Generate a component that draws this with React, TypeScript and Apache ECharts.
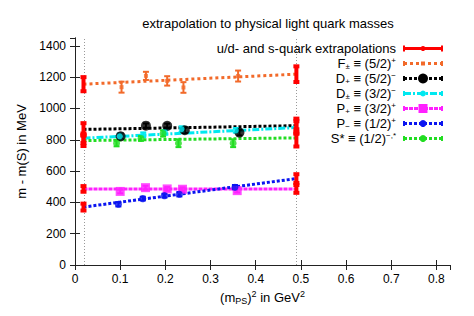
import React, { useEffect, useRef } from 'react';
import * as echarts from 'echarts';

const X_PHYS = 0.0188;
const X_STRANGE = 0.49;

const xTicks = [0, 0.1, 0.2, 0.3, 0.4, 0.5, 0.6, 0.7, 0.8];
const yTicks = [0, 200, 400, 600, 800, 1000, 1200, 1400];

// F± ≡ (5/2)+
const fX = [0.103, 0.157, 0.204, 0.240, 0.361];
const fY = [1136, 1208, 1176, 1134, 1207];
const fErr = [35, 26, 30, 34, 35];
const fFit = [1155, 1219];
const fExtErr = [45, 50];

// D+ ≡ (5/2)-
const d52X = [0.101, 0.157, 0.204, 0.243, 0.364];
const d52Y = [822, 890, 889, 861, 846];
const d52Err = [18, 14, 14, 18, 18];
const d52Fit = [866, 890];
const d52ExtErr = [40, 45];

// D± ≡ (3/2)-
const d32X = [0.099, 0.151, 0.199, 0.236, 0.356];
const d32Y = [822, 832, 848, 868, 860];
const d32Err = [18, 15, 15, 18, 15];
const d32Fit = [810, 878];
const d32ExtErr = [30, 40];

// P+ ≡ (3/2)+
const ppX = [0.100, 0.156, 0.204, 0.238, 0.359];
const ppY = [470, 494, 486, 484, 475];
const ppErr = [12, 12, 12, 12, 12];
const ppFit = [486, 486];
const ppExtErr = [18, 25];

// P- ≡ (1/2)+
const pmX = [0.096, 0.150, 0.198, 0.231, 0.354];
const pmY = [388, 424, 443, 452, 497];
const pmErr = [14, 12, 12, 14, 14];
const pmFit = [370, 552];
const pmExtErr = [22, 28];

// S* ≡ (1/2)-,*
const sX = [0.092, 0.146, 0.195, 0.229, 0.350];
const sY = [778, 808, 840, 778, 778];
const sErr = [20, 15, 20, 25, 25];
const sFit = [795, 812];
const sExtErr = [35, 55];

const FONT = 'Liberation Sans, Arial, sans-serif';

type SetDef = {
  label: string;
  color: string;
  x: number[]; y: number[]; err: number[]; fit: number[]; extErr: number[];
  symbol: string; size: number; dash: number[];
};

const sets: SetDef[] = [
  { label: '{m|F}{sub|±}{m| ≡ (5/2)}{sup|+}', color: '#f26a2a', x: fX, y: fY, err: fErr, fit: fFit, extErr: fExtErr, symbol: 'rect', size: 4, dash: [3, 3] },
  { label: '{m|D}{sub|+}{m| ≡ (5/2)}{sup|−}', color: '#000000', x: d52X, y: d52Y, err: d52Err, fit: d52Fit, extErr: d52ExtErr, symbol: 'circle', size: 10, dash: [3, 2] },
  { label: '{m|D}{sub|±}{m| ≡ (3/2)}{sup|−}', color: '#00e8f0', x: d32X, y: d32Y, err: d32Err, fit: d32Fit, extErr: d32ExtErr, symbol: 'circle', size: 6, dash: [7, 2, 2, 2] },
  { label: '{m|P}{sub|+}{m| ≡ (3/2)}{sup|+}', color: '#ff20ff', x: ppX, y: ppY, err: ppErr, fit: ppFit, extErr: ppExtErr, symbol: 'rect', size: 9, dash: [4, 1] },
  { label: '{m|P}{sub|−}{m| ≡ (1/2)}{sup|+}', color: '#0a14f0', x: pmX, y: pmY, err: pmErr, fit: pmFit, extErr: pmExtErr, symbol: 'circle', size: 7, dash: [3, 2] },
  { label: '{m|S* ≡ (1/2)}{sup|−,*}', color: '#22dd22', x: sX, y: sY, err: sErr, fit: sFit, extErr: sExtErr, symbol: 'circle', size: 7, dash: [3, 2] },
];

const makeErrRender = (lw: number, cap: number) => (params: any, api: any) => {
  const x = api.value(0);
  const y = api.value(1);
  const e = api.value(2);
  const lo = api.coord([x, y - e]);
  const hi = api.coord([x, y + e]);
  const style = { stroke: api.visual('color'), lineWidth: lw };
  return {
    type: 'group',
    children: [
      { type: 'line', shape: { x1: lo[0], y1: lo[1], x2: hi[0], y2: hi[1] }, style },
      { type: 'line', shape: { x1: lo[0] - cap, y1: lo[1], x2: lo[0] + cap, y2: lo[1] }, style },
      { type: 'line', shape: { x1: hi[0] - cap, y1: hi[1], x2: hi[0] + cap, y2: hi[1] }, style },
    ],
  };
};

const rich = {
  m: { fontSize: 13, fontFamily: FONT, color: '#000', lineHeight: 14 },
  sub: { fontSize: 8, fontFamily: FONT, color: '#000', verticalAlign: 'bottom', lineHeight: 14 },
  sup: { fontSize: 8, fontFamily: FONT, color: '#000', verticalAlign: 'top', lineHeight: 14 },
};

export default function App() {
  const ref = useRef<HTMLDivElement>(null);
  useEffect(() => {
    if (!ref.current) return;
    const chart = echarts.init(ref.current, null, { renderer: 'svg' });

    const series: any[] = [];
    series.push({
      type: 'line',
      data: [],
      markLine: {
        silent: true,
        symbol: 'none',
        label: { show: false },
        lineStyle: { color: '#999', type: [1, 2], width: 1 },
        data: [{ xAxis: X_PHYS }, { xAxis: X_STRANGE }],
      },
      z: 1,
    });
    const extData: number[][] = [];
    sets.forEach((s) => {
      series.push({
        type: 'line',
        data: [[X_PHYS, s.fit[0]], [X_STRANGE, s.fit[1]]],
        showSymbol: false,
        symbol: 'none',
        lineStyle: { color: s.color, width: 3, type: s.dash },
        z: 2,
      });
      series.push({
        type: 'custom',
        renderItem: makeErrRender(2, 3),
        itemStyle: { color: s.color },
        data: s.x.map((x, i) => [x, s.y[i], s.err[i]]),
        z: 3,
      });
      series.push({
        type: 'scatter',
        symbol: s.symbol,
        symbolSize: s.size,
        itemStyle: { color: s.color },
        data: s.x.map((x, i) => [x, s.y[i]]),
        z: 4,
      });
      extData.push([X_PHYS, s.fit[0], s.extErr[0]]);
      extData.push([X_STRANGE, s.fit[1], s.extErr[1]]);
    });
    series.push({
      type: 'custom',
      renderItem: makeErrRender(4, 3),
      itemStyle: { color: '#ff0000' },
      data: extData,
      z: 5,
    });

    const graphic: any[] = [];
    const lgTextX = 396;
    const lgX1 = 404;
    const lgX2 = 442;
    const lgY0 = 48.5;
    const lgStep = 15;
    const mx = (lgX1 + lgX2) / 2;
    graphic.push({
      type: 'text', x: lgTextX, y: lgY0,
      style: { text: 'u/d- and s-quark extrapolations', font: `13px ${FONT}`, fill: '#000', align: 'right', verticalAlign: 'middle' },
    });
    graphic.push({ type: 'line', shape: { x1: lgX1, y1: lgY0, x2: lgX2, y2: lgY0 }, style: { stroke: '#ff0000', lineWidth: 3 } });
    graphic.push({ type: 'line', shape: { x1: lgX1, y1: lgY0 - 3, x2: lgX1, y2: lgY0 + 3 }, style: { stroke: '#ff0000', lineWidth: 2 } });
    graphic.push({ type: 'line', shape: { x1: lgX2, y1: lgY0 - 3, x2: lgX2, y2: lgY0 + 3 }, style: { stroke: '#ff0000', lineWidth: 2 } });
    graphic.push({ type: 'circle', shape: { cx: mx, cy: lgY0, r: 2.5 }, style: { fill: '#ff0000' } });
    sets.forEach((s, i) => {
      const y = lgY0 + lgStep * (i + 1);
      graphic.push({
        type: 'text', x: lgTextX, y,
        style: { text: s.label, rich, align: 'right', verticalAlign: 'middle' },
      });
      graphic.push({ type: 'line', shape: { x1: lgX1, y1: y, x2: lgX2, y2: y }, style: { stroke: s.color, lineWidth: 3, lineDash: s.dash } });
      graphic.push({ type: 'line', shape: { x1: lgX1, y1: y - 2.5, x2: lgX1, y2: y + 2.5 }, style: { stroke: s.color, lineWidth: 2 } });
      graphic.push({ type: 'line', shape: { x1: lgX2, y1: y - 2.5, x2: lgX2, y2: y + 2.5 }, style: { stroke: s.color, lineWidth: 2 } });
      if (s.symbol === 'rect') {
        graphic.push({ type: 'rect', shape: { x: mx - s.size / 2, y: y - s.size / 2, width: s.size, height: s.size }, style: { fill: s.color } });
      } else {
        graphic.push({ type: 'circle', shape: { cx: mx, cy: y, r: Math.max(s.size / 2, 3) }, style: { fill: s.color } });
      }
    });

    const axisCommon = {
      axisLine: { show: true, lineStyle: { color: '#222', width: 1 } },
      axisTick: { show: true, inside: true, length: 5, lineStyle: { color: '#222' } },
      splitLine: { show: false },
    };

    chart.setOption({
      animation: false,
      backgroundColor: '#fff',
      title: {
        text: 'extrapolation to physical light quark masses',
        left: 263, top: 12, textAlign: 'center',
        textStyle: { fontFamily: FONT, fontSize: 13, fontWeight: 'normal', color: '#000' },
      },
      grid: { left: 75, right: 24, top: 38, bottom: 51 },
      xAxis: [
        {
          type: 'value', min: 0, max: 0.83, interval: 0.1, position: 'bottom',
          ...axisCommon,
          axisLabel: { showMaxLabel: false, fontFamily: FONT, fontSize: 12, color: '#000', margin: 8,
            formatter: (v: number) => (xTicks.some((t) => Math.abs(t - v) < 1e-6) ? (Math.abs(v) < 1e-9 ? '0' : v.toFixed(1)) : '') },
          name: '(m{sub|PS}){sup|2}{n| in GeV}{sup|2}',
          nameLocation: 'middle', nameGap: 24,
          nameTextStyle: {
            fontFamily: FONT, fontSize: 13, color: '#000', lineHeight: 16,
            rich: {
              sub: { fontSize: 9, fontFamily: FONT, color: '#000', verticalAlign: 'bottom', lineHeight: 16 },
              sup: { fontSize: 9, fontFamily: FONT, color: '#000', verticalAlign: 'top', lineHeight: 16 },
              n: { fontSize: 13, fontFamily: FONT, color: '#000', lineHeight: 16 },
            },
          },
        },
        {
          type: 'value', min: 0, max: 0.83, interval: 0.1, position: 'top',
          ...axisCommon, axisLabel: { show: false },
        },
      ],
      yAxis: [
        {
          type: 'value', min: 0, max: 1450, interval: 200, position: 'left',
          ...axisCommon,
          axisLabel: { showMaxLabel: false, fontFamily: FONT, fontSize: 12, color: '#000', margin: 9,
            formatter: (v: number) => (yTicks.includes(v) ? String(v) : '') },
          name: 'm - m(S) in MeV', nameLocation: 'middle', nameGap: 44, nameRotate: 90,
          nameTextStyle: { fontFamily: FONT, fontSize: 13, color: '#000' },
        },
        {
          type: 'value', min: 0, max: 1450, interval: 200, position: 'right',
          ...axisCommon, axisLabel: { show: false },
        },
      ],
      series,
      graphic,
    });
    return () => chart.dispose();
  }, []);
  return <div ref={ref} style={{ width: 474, height: 316, position: 'absolute', left: 0, top: 0 }} />;
}
